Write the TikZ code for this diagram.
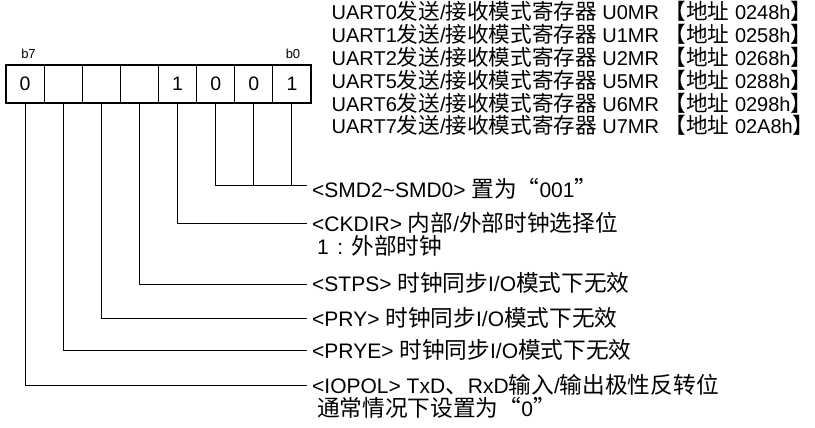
\documentclass[tikz,border=0pt]{standalone}
\usepackage{fontspec}
\setmainfont{Liberation Sans}
\newfontfamily\zhfont[Scale=1.08]{Noto Sans CJK SC}
\newcommand\Z[1]{{\zhfont #1}}
\newcommand\LQ{{\zhfont\makebox[1em][r]{“}}}
\newcommand\RQ{{\zhfont\makebox[1em][l]{”}}}
\newcommand\FWC{{\zhfont\makebox[1em][c]{\rmfamily :}}}
\begin{document}
\begin{tikzpicture}[x=1pt,y=-1pt,
  cell/.style={draw,line width=1.1pt,minimum width=38.1pt,minimum height=38pt,inner sep=0pt,font=\fontsize{19.5}{22}\selectfont},
  bitlbl/.style={inner sep=0pt,anchor=base,font=\fontsize{13}{14}\selectfont},
  regtxt/.style={inner sep=0pt,anchor=base west,font=\fontsize{20}{22}\selectfont},
  lbl/.style={inner sep=0pt,anchor=base west,font=\fontsize{21}{23}\selectfont},
  conn/.style={line width=0.9pt}]
\useasboundingbox (0,0) rectangle (815,428);
% register cells
\foreach \i/\v [count=\k from 0] in {7/0,6/,5/,4/,3/1,2/0,1/0,0/1}{
  \node[cell] (c\i) at ({6+38.125*(\k+0.5)},84) {\v};
}
\node[bitlbl] (b7) at (28.5,58.5) {b7};
\node[bitlbl] (b0) at (293,58.5) {b0};
% register titles
\node[regtxt] (r0) at (331.5,20) {UART0\Z{发送}/\Z{接收模式寄存器} U0MR \Z{【地址} 0248h\Z{】}};
\node[regtxt] (r1) at (331.5,42.8) {UART1\Z{发送}/\Z{接收模式寄存器} U1MR \Z{【地址} 0258h\Z{】}};
\node[regtxt] (r2) at (331.5,65.6) {UART2\Z{发送}/\Z{接收模式寄存器} U2MR \Z{【地址} 0268h\Z{】}};
\node[regtxt] (r5) at (331.5,88.4) {UART5\Z{发送}/\Z{接收模式寄存器} U5MR \Z{【地址} 0288h\Z{】}};
\node[regtxt] (r6) at (331.5,111.2) {UART6\Z{发送}/\Z{接收模式寄存器} U6MR \Z{【地址} 0298h\Z{】}};
\node[regtxt] (r7) at (331.5,134) {UART7\Z{发送}/\Z{接收模式寄存器} U7MR \Z{【地址} 02A8h\Z{】}};
% bit descriptions
\node[lbl] (tSMD) at (312,197) {<SMD2\textasciitilde SMD0> \Z{置为}\LQ 001\RQ};
\node[lbl] (tCK) at (312,231) {<CKDIR> \Z{内部}/\Z{外部时钟选择位}};
\node[lbl] (tCK2) at (317,254) {1\FWC\Z{外部时钟}};
\node[lbl] (tST) at (312,291.5) {<STPS> \Z{时钟同步}I/O\Z{模式下无效}};
\node[lbl] (tPRY) at (312,326.5) {<PRY> \Z{时钟同步}I/O\Z{模式下无效}};
\node[lbl] (tPRYE) at (312,358.5) {<PRYE> \Z{时钟同步}I/O\Z{模式下无效}};
\node[lbl] (tIO) at (312,393.5) {<IOPOL> TxD\Z{、}RxD\Z{输入}/\Z{输出极性反转位}};
\node[lbl] (tIO2) at (317,416.5) {\Z{通常情况下设置为}\LQ 0\RQ};
% connector ends
\coordinate (eSMD) at (307,185);
\coordinate (eCK) at (307,223);
\coordinate (eST) at (307,284);
\coordinate (ePRY) at (307,318.5);
\coordinate (ePRYE) at (307,350);
\coordinate (eIO) at (307,385.5);
% connectors
\draw[conn] (c2.south) |- (eSMD);
\draw[conn] (c1.south) -- (c1.south |- eSMD);
\draw[conn] (c0.south) -- (c0.south |- eSMD);
\draw[conn] (c3.south) |- (eCK);
\draw[conn] (c4.south) |- (eST);
\draw[conn] (c5.south) |- (ePRY);
\draw[conn] (c6.south) |- (ePRYE);
\draw[conn] (c7.south) |- (eIO);
\end{tikzpicture}
\end{document}
